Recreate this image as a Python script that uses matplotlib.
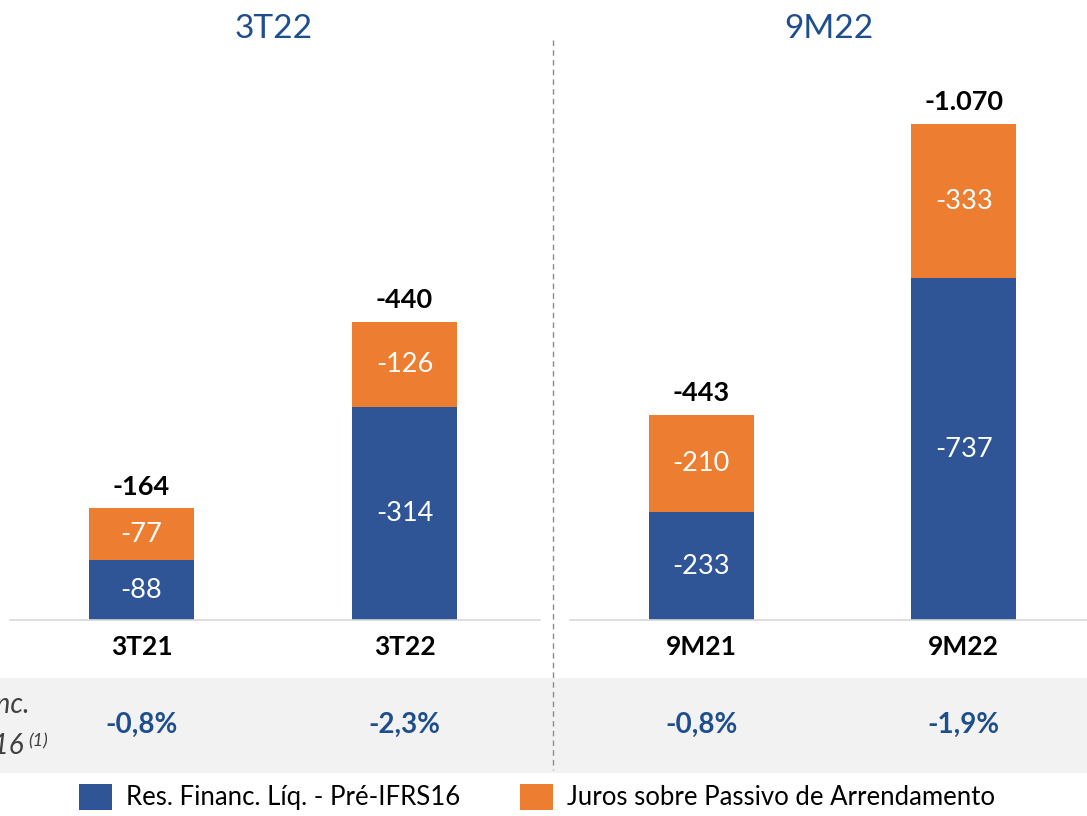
import matplotlib
matplotlib.use("Agg")
import matplotlib.pyplot as plt
from matplotlib.patches import Patch, Rectangle
from matplotlib.lines import Line2D

plt.rcParams['font.family'] = ['Lato', 'DejaVu Sans']

# ---- data ----
groups = ["3T22", "9M22"]
cats_left = ["3T21", "3T22"]
cats_right = ["9M21", "9M22"]
pre_ifrs_left = [-88, -314]
juros_left = [-77, -126]
total_left = ["-164", "-440"]
pre_ifrs_right = [-233, -737]
juros_right = [-210, -333]
total_right = ["-443", "-1.070"]
pct_left = ["-0,8%", "-2,3%"]
pct_right = ["-0,8%", "-1,9%"]
legend_labels = ["Res. Financ. Líq. - Pré-IFRS16", "Juros sobre Passivo de Arrendamento"]

BLUE = "#2F5597"
ORANGE = "#ED7D31"
TITLE_BLUE = "#1F4E8C"
W, H = 1087, 816

fig = plt.figure(figsize=(W / 100, H / 100), dpi=100)

def fx(px):
    return px / W

def fy(py):
    return 1 - py / H

# gray band and dashed separator
fig.patches.append(Rectangle((0, fy(773)), 1, (773 - 678) / H, transform=fig.transFigure,
                             facecolor="#F2F2F2", edgecolor="none", zorder=-5))
fig.lines.append(Line2D([fx(553), fx(553)], [fy(40), fy(770)], transform=fig.transFigure,
                        color="#8C8C8C", lw=1, linestyle=(0, (4, 3)), zorder=-4))

def panel(rect, xlim, ylim, cats, blue, orange, totals, pcts):
    ax = fig.add_axes(rect)
    ax.set_xlim(*xlim)
    ax.set_ylim(0, ylim)
    ax.patch.set_alpha(0)
    for s in ["top", "right", "left"]:
        ax.spines[s].set_visible(False)
    ax.spines["bottom"].set_color("#D9D9D9")
    ax.spines["bottom"].set_linewidth(1.2)
    ax.set_yticks([])
    ax.set_xticks(range(len(cats)))
    ax.set_xticklabels(cats, fontsize=19, fontweight="bold", color="black")
    ax.tick_params(axis="x", length=0, pad=11)
    x = list(range(len(cats)))
    b = [-v for v in blue]
    o = [-v for v in orange]
    ax.bar(x, b, width=0.4, color=BLUE, zorder=2)
    ax.bar(x, o, width=0.4, bottom=b, color=ORANGE, zorder=2)
    for i in x:
        ax.text(i, b[i] / 2, str(blue[i]), ha="center", va="center", color="white", fontsize=19.5)
        ax.text(i, b[i] + o[i] / 2, str(orange[i]), ha="center", va="center", color="white", fontsize=19.5)
        ax.annotate(totals[i], (i, b[i] + o[i]), xytext=(0, 7), textcoords="offset points",
                    ha="center", va="bottom", fontsize=19.5, fontweight="bold", color="black")
        ax.annotate(pcts[i], (i, 0), xytext=(0, -105), textcoords="offset pixels",
                    ha="center", va="center", fontsize=20, fontweight="bold", color=TITLE_BLUE,
                    annotation_clip=False)
    return ax

axl = panel([fx(10), 196 / H, 530 / W, 580 / H], (-0.5, 1.515), 580 / 0.677,
            cats_left, pre_ifrs_left, juros_left, total_left, pct_left)
axr = panel([fx(570), 196 / H, 517 / W, 580 / H], (-0.5, 1.47), 580 / 0.4635,
            cats_right, pre_ifrs_right, juros_right, total_right, pct_right)

fig.text(fx(274), fy(29), groups[0], ha="center", va="center", fontsize=24, color=TITLE_BLUE)
fig.text(fx(829), fy(29), groups[1], ha="center", va="center", fontsize=24, color=TITLE_BLUE)

# cut-off row label (cut off at the left edge, as in the reference)
fig.text(fx(30), fy(705), "Res. Financ.", ha="right", va="center", fontsize=20,
         style="italic", color="#404040")
fig.text(fx(24), fy(746), "Pré-IFRS16", ha="right", va="center", fontsize=20,
         style="italic", color="#404040")
fig.text(fx(28), fy(741), "(1)", ha="left", va="center", fontsize=13,
         style="italic", color="#404040")

handles = [Patch(facecolor=BLUE), Patch(facecolor=ORANGE)]
fig.legend(handles, legend_labels, loc="lower center", bbox_to_anchor=(fx(537), -0.012),
           ncol=2, frameon=False, fontsize=18.5, handlelength=1.3, handleheight=1.2,
           handletextpad=0.55, columnspacing=2.3, borderpad=0.1)

fig.savefig("out.png", dpi=100)
